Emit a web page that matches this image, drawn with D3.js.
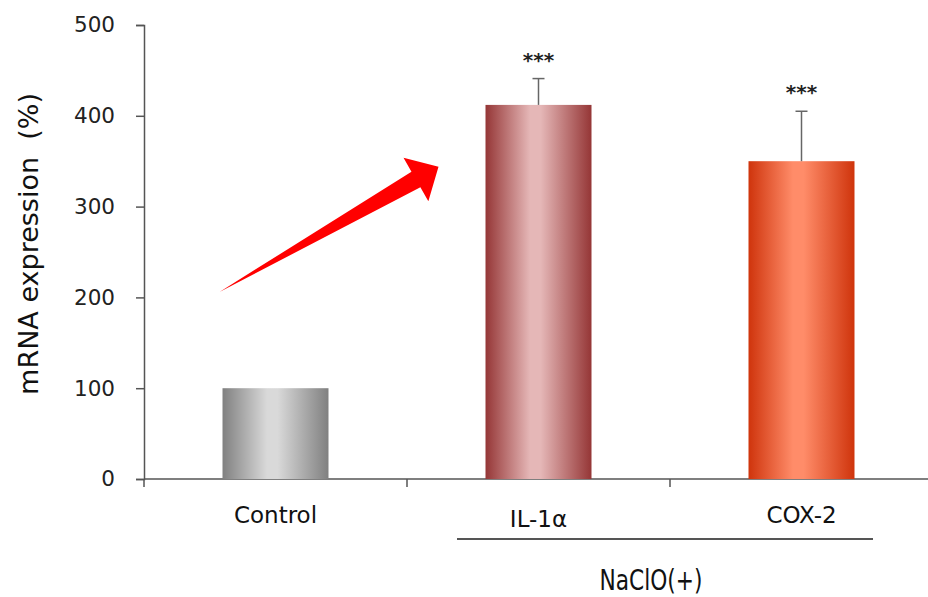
<!DOCTYPE html>
<html>
<head>
<meta charset="utf-8">
<script src="https://cdn.jsdelivr.net/npm/d3@7"></script>
<style>
  body { margin: 0; background: #fff; }
  svg { display: block; font-family: "DejaVu Sans", Verdana, sans-serif; }
</style>
</head>
<body>
<svg width="928" height="597"></svg>
<script>
// data
const categories = ["Control", "IL-1α", "COX-2"]
const values = [100, 412, 350]
const errors = [0, 29, 55]
const stars = ["", "***", "***"]
const yTicks = [0, 100, 200, 300, 400, 500]
const groupLabel = "NaClO(+)"

// bar gradients: edge, middle
const barColors = [
  ["#808080", "#d9d9d9"],
  ["#953636", "#e5b7b7"],
  ["#cf340c", "#ff8c69"]
]

var svg = d3.select("svg")
var x = d3.scaleBand().domain(categories).range([144, 933]).padding(0)
var y = d3.scaleLinear().domain([0, 500]).range([479, 25])
let barW = x.bandwidth() * 0.403

let defs = svg.append("defs")
barColors.forEach((c, i) => {
  let g = defs.append("linearGradient").attr("id", "grad" + i)
    .attr("x1", "0").attr("x2", "1").attr("y1", "0").attr("y2", "0")
  g.append("stop").attr("offset", "0%").attr("stop-color", c[0])
  g.append("stop").attr("offset", "42%").attr("stop-color", c[1])
  g.append("stop").attr("offset", "52%").attr("stop-color", c[1])
  g.append("stop").attr("offset", "100%").attr("stop-color", c[0])
})

// y axis
let yAxis = svg.append("g")
  .attr("transform", "translate(144,0)")
  .call(d3.axisLeft(y).tickValues(yTicks).tickSize(8).tickPadding(21))
yAxis.select(".domain").attr("stroke", "#555").attr("stroke-width", 1.5)
yAxis.selectAll(".tick line").attr("stroke", "#555").attr("stroke-width", 1.5)
yAxis.selectAll(".tick text")
  .attr("font-size", 21.5).attr("fill", "#222")
  .attr("font-family", "DejaVu Sans, Verdana, sans-serif")

svg.append("text")
  .attr("transform", `translate(38,${(y(500) + y(0)) / 2 - 8}) rotate(-90)`)
  .attr("text-anchor", "middle")
  .attr("font-size", 27)
  .attr("fill", "#111")
  .style("white-space", "pre")
  .text("mRNA expression  (%)")

// x axis: line with ticks at band edges
svg.append("line")
  .attr("x1", 144).attr("x2", 928)
  .attr("y1", y(0)).attr("y2", y(0))
  .attr("stroke", "#555").attr("stroke-width", 1.5)
svg.append("g").selectAll("line")
  .data(categories)
  .enter().append("line")
  .attr("x1", d => x(d)).attr("x2", d => x(d))
  .attr("y1", y(0)).attr("y2", y(0) + 8)
  .attr("stroke", "#555").attr("stroke-width", 1.5)

// bars
svg.append("g").selectAll("rect")
  .data(categories)
  .enter().append("rect")
  .attr("x", d => x(d) + x.bandwidth() / 2 - barW / 2)
  .attr("width", barW)
  .attr("y", (d, i) => y(values[i]))
  .attr("height", (d, i) => y(0) - y(values[i]))
  .attr("fill", (d, i) => "url(#grad" + i + ")")

// error bars (upper only)
let err = svg.append("g").attr("stroke", "#666").attr("stroke-width", 1.5)
categories.forEach((c, i) => {
  if (!errors[i]) return
  let cx = x(c) + x.bandwidth() / 2
  err.append("line").attr("x1", cx).attr("x2", cx)
    .attr("y1", y(values[i])).attr("y2", y(values[i] + errors[i]))
  err.append("line").attr("x1", cx - 6).attr("x2", cx + 6)
    .attr("y1", y(values[i] + errors[i])).attr("y2", y(values[i] + errors[i]))
})

// significance stars
svg.append("g").selectAll("text")
  .data(categories)
  .enter().append("text")
  .attr("x", d => x(d) + x.bandwidth() / 2)
  .attr("y", (d, i) => y(values[i] + errors[i]) - 12)
  .attr("text-anchor", "middle")
  .attr("font-size", 20)
  .attr("font-weight", "bold")
  .attr("fill", "#222")
  .text((d, i) => stars[i])

// category labels
svg.append("g").selectAll("text")
  .data(categories)
  .enter().append("text")
  .attr("x", d => x(d) + x.bandwidth() / 2)
  .attr("y", d => d === "IL-1α" ? 527 : 523)
  .attr("text-anchor", "middle")
  .attr("font-size", 23)
  .attr("fill", "#111")
  .text(d => d)

// group bracket under NaClO treated bars
let gx1 = x(categories[1]) + 50, gx2 = x(categories[2]) + x.bandwidth() - 60
svg.append("line")
  .attr("x1", gx1).attr("x2", gx2).attr("y1", 539).attr("y2", 539)
  .attr("stroke", "#555").attr("stroke-width", 2)
svg.append("text")
  .attr("x", (gx1 + gx2) / 2 - 14)
  .attr("y", 590)
  .attr("text-anchor", "middle")
  .attr("font-size", 29)
  .attr("font-family", "DejaVu Sans Condensed, DejaVu Sans, sans-serif")
  .attr("fill", "#111")
  .attr("textLength", 103).attr("lengthAdjust", "spacingAndGlyphs")
  .text(groupLabel)

// red arrow from Control towards IL-1α
let tail = [x("Control") + x.bandwidth() / 2 - 56, y(206)]
let tip = [x("IL-1α") + x.bandwidth() / 2 - 100, y(344)]
let dx = tip[0] - tail[0], dy = tip[1] - tail[1]
let len = Math.hypot(dx, dy)
let u = [dx / len, dy / len], n = [-u[1], u[0]]
let pt = (back, side) => [tip[0] - u[0] * back + n[0] * side, tip[1] - u[1] * back + n[1] * side]
let arrowPts = [tail, pt(26, -9), pt(26, -25), tip, pt(26, 25), pt(26, 9)]
svg.append("path")
  .attr("d", d3.line()(arrowPts) + "Z")
  .attr("fill", "#ff0000")
</script>
</body>
</html>
